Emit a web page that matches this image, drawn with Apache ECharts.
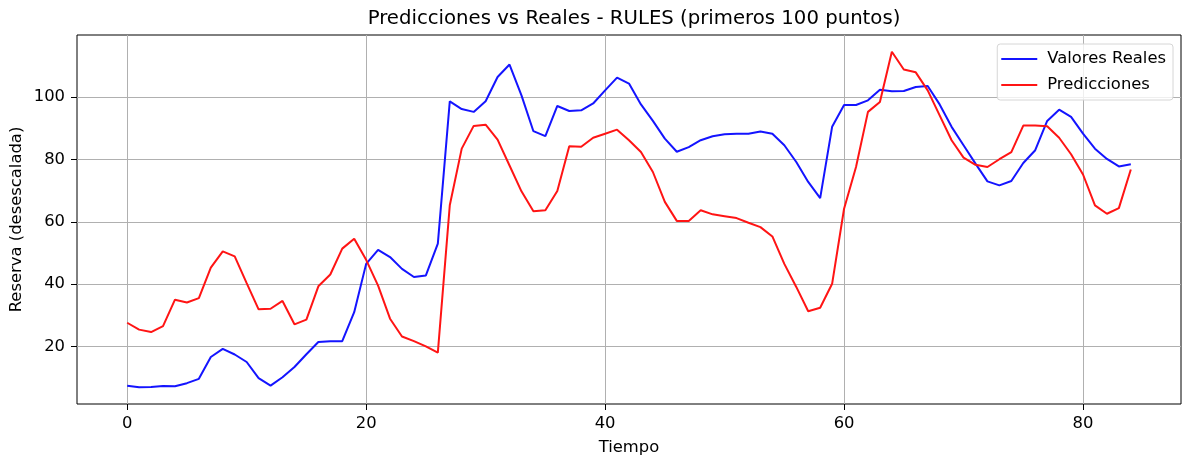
<!DOCTYPE html>
<html>
<head>
<meta charset="utf-8">
<script src="https://cdn.jsdelivr.net/npm/echarts@6/dist/echarts.min.js"></script>
<style>
html,body{margin:0;padding:0;background:#fff;}
#chart{width:1182px;height:459px;}
</style>
</head>
<body>
<div id="chart"></div>
<script>
const titleText = "Predicciones vs Reales - RULES (primeros 100 puntos)";
const xName = "Tiempo";
const yName = "Reserva (desescalada)";
const realName = "Valores Reales";
const predName = "Predicciones";

const reales = [7.4,6.9,7.0,7.3,7.2,8.2,9.6,16.6,19.2,17.4,15.0,9.8,7.4,10.1,13.4,17.5,21.4,21.7,21.7,31.0,
46.5,51.0,48.7,44.9,42.3,42.8,53.0,98.7,96.2,95.3,98.7,106.5,110.5,100.6,89.1,87.5,97.2,95.6,95.8,98.0,
102.2,106.3,104.4,97.7,92.4,86.7,82.5,84.0,86.2,87.5,88.1,88.3,88.3,89.0,88.3,84.6,79.2,72.8,67.6,90.5,
97.5,97.5,99.0,102.4,101.9,102.0,103.3,103.6,97.7,90.5,84.6,78.7,73.0,71.7,73.1,78.9,83.0,92.4,96.0,93.7,
88.3,83.5,80.2,77.8,78.5];

const predicciones = [27.6,25.4,24.6,26.5,35.0,34.1,35.5,45.3,50.5,48.9,40.3,31.9,32.1,34.6,27.1,28.6,39.3,43.1,51.4,54.6,
47.8,39.5,28.9,23.2,21.7,20.0,18.0,65.3,83.5,90.8,91.2,86.4,78.1,69.8,63.4,63.7,69.9,84.3,84.1,87.0,
88.3,89.6,86.2,82.4,76.0,66.4,60.3,60.3,63.7,62.4,61.8,61.2,59.7,58.3,55.3,46.5,39.1,31.3,32.4,40.1,
64.2,77.6,95.3,98.5,114.6,108.9,108.0,102.2,94.2,86.2,80.6,78.3,77.6,80.1,82.4,90.9,90.9,90.7,87.0,81.7,
75.2,65.3,62.6,64.4,76.8];

const xTicks = [0,20,40,60,80];
const yTicks = [20,40,60,80,100];

const n = reales.length;
const xMin = -0.05*(n-1), xMax = (n-1)*1.05;
const allV = reales.concat(predicciones);
const vMin = Math.min(...allV), vMax = Math.max(...allV);
const yMin = vMin - 0.05*(vMax-vMin), yMax = vMax + 0.05*(vMax-vMin);

const font = "DejaVu Sans";
const fs = 16.4;
const chart = echarts.init(document.getElementById('chart'), null, {renderer:'canvas'});

chart.setOption({
  animation:false,
  backgroundColor:'#fff',
  title:{
    text:titleText, left:629, top:4, textAlign:'center',
    textStyle:{fontFamily:font,fontSize:19.7,fontWeight:'normal',color:'#000'}
  },
  legend:{
    orient:'vertical', right:9, top:44,
    itemWidth:36, itemHeight:12, itemGap:10,
    padding:[7,7,7,4],
    backgroundColor:'rgba(255,255,255,0.8)',
    borderColor:'#d6d6d6', borderWidth:1, borderRadius:3,
    textStyle:{fontFamily:font,fontSize:fs,color:'#000',padding:[0,0,0,5]},
    data:[{name:realName,icon:'path://M0,0L36,0L36,2L0,2Z'},{name:predName,icon:'path://M0,0L36,0L36,2L0,2Z'}]
  },
  grid:{left:77,right:1,top:35,bottom:55,show:true,borderColor:'#000',borderWidth:1,
        backgroundColor:'transparent',containLabel:false,outerBoundsMode:'none'},
  xAxis:{
    type:'value', min:xMin, max:xMax,
    name:xName, nameLocation:'middle', nameGap:36, nameMoveOverlap:false,
    nameTextStyle:{fontFamily:font,fontSize:fs,color:'#000'},
    axisLine:{show:false,onZero:false},
    axisTick:{show:true,length:6,customValues:xTicks,lineStyle:{color:'#000',width:1}},
    axisLabel:{customValues:xTicks,margin:12,fontFamily:font,fontSize:fs,color:'#000'},
    splitLine:{show:true,customValues:xTicks,lineStyle:{color:'#b0b0b0',width:1}}
  },
  yAxis:{
    type:'value', min:yMin, max:yMax,
    name:yName, nameLocation:'middle', nameGap:52, nameRotate:90, nameMoveOverlap:false,
    nameTextStyle:{fontFamily:font,fontSize:fs,color:'#000'},
    axisLine:{show:false,onZero:false},
    axisTick:{show:true,length:6,customValues:yTicks,lineStyle:{color:'#000',width:1}},
    axisLabel:{customValues:yTicks,margin:12,fontFamily:font,fontSize:fs,color:'#000'},
    splitLine:{show:true,customValues:yTicks,lineStyle:{color:'#b0b0b0',width:1}}
  },
  series:[
    {name:realName,type:'line',showSymbol:false,symbol:'none',
     data:reales.map((v,i)=>[i,v]),
     lineStyle:{color:'#1414ff',width:2},itemStyle:{color:'#1414ff'}},
    {name:predName,type:'line',showSymbol:false,symbol:'none',
     data:predicciones.map((v,i)=>[i,v]),
     lineStyle:{color:'#ff1414',width:2},itemStyle:{color:'#ff1414'}}
  ]
});
</script>
</body>
</html>
